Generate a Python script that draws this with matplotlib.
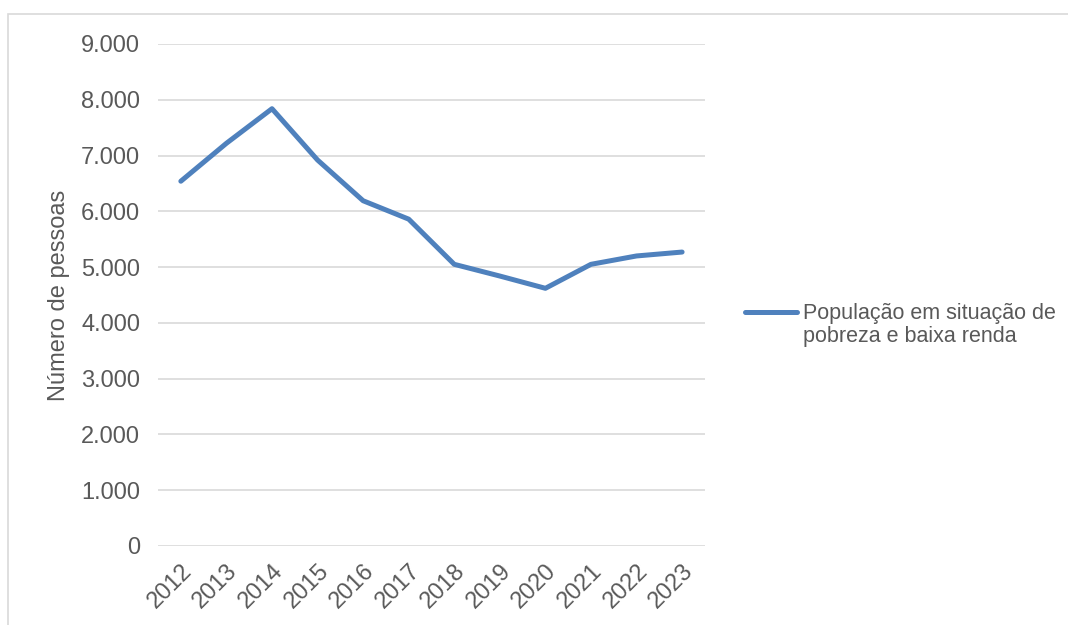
import matplotlib
matplotlib.use("Agg")
import matplotlib.pyplot as plt
from matplotlib.lines import Line2D
from matplotlib.patches import Rectangle
from matplotlib.ticker import FuncFormatter

plt.rcParams['font.family'] = ['Liberation Sans', 'DejaVu Sans']

anos = ['2012', '2013', '2014', '2015', '2016', '2017',
        '2018', '2019', '2020', '2021', '2022', '2023']
populacao = [6540, 7220, 7840, 6920, 6190, 5860,
             5050, 4840, 4620, 5050, 5200, 5270]
serie_nome = 'População em situação de\npobreza e baixa renda'

cor_linha = '#4F81BD'
cor_texto = '#595959'
cor_grade = '#D9D9D9'

W, H = 1068, 625
fig = plt.figure(figsize=(W / 100, H / 100), dpi=100)
ax = fig.add_axes([0.148, 0.1264, 0.512, 0.8032])

# moldura cinza do gráfico
fig.patches.append(Rectangle((8 / W, -0.05), 1.1, (H - 14) / H + 0.05,
                             transform=fig.transFigure, fill=False,
                             edgecolor=cor_grade, linewidth=1.2))

x = list(range(len(anos)))
ax.plot(x, populacao, color=cor_linha, linewidth=3.6,
        solid_capstyle='round', solid_joinstyle='round', label=serie_nome)

ax.set_xlim(-0.5, len(anos) - 0.5)
ax.set_ylim(0, 9000)
ax.set_yticks(range(0, 9001, 1000))
ax.yaxis.set_major_formatter(FuncFormatter(lambda v, p: f'{int(v):,}'.replace(',', '.')))
ax.set_xticks(x)
ax.set_xticklabels(anos, rotation=45, ha='right', rotation_mode='anchor')

ax.grid(axis='y', color=cor_grade, linewidth=1.2)
ax.set_axisbelow(True)
for s in ax.spines.values():
    s.set_visible(False)
ax.tick_params(axis='both', length=0, labelsize=17, colors=cor_texto)
ax.tick_params(axis='y', pad=13)
ax.tick_params(axis='x', pad=10)

ax.set_ylabel('Número de pessoas', fontsize=17, color=cor_texto, labelpad=8)

# legenda à direita: traço alinhado com a primeira linha do rótulo
y_leg = 1 - 312 / H
fig.add_artist(Line2D([745 / W, 797 / W], [y_leg, y_leg], transform=fig.transFigure,
                      color=cor_linha, linewidth=3.6, solid_capstyle='round'))
fig.text(803 / W, 1 - 325 / H, serie_nome, fontsize=15.5, color=cor_texto,
         ha='left', va='center', linespacing=1.15)

fig.savefig('out.png', dpi=100)
